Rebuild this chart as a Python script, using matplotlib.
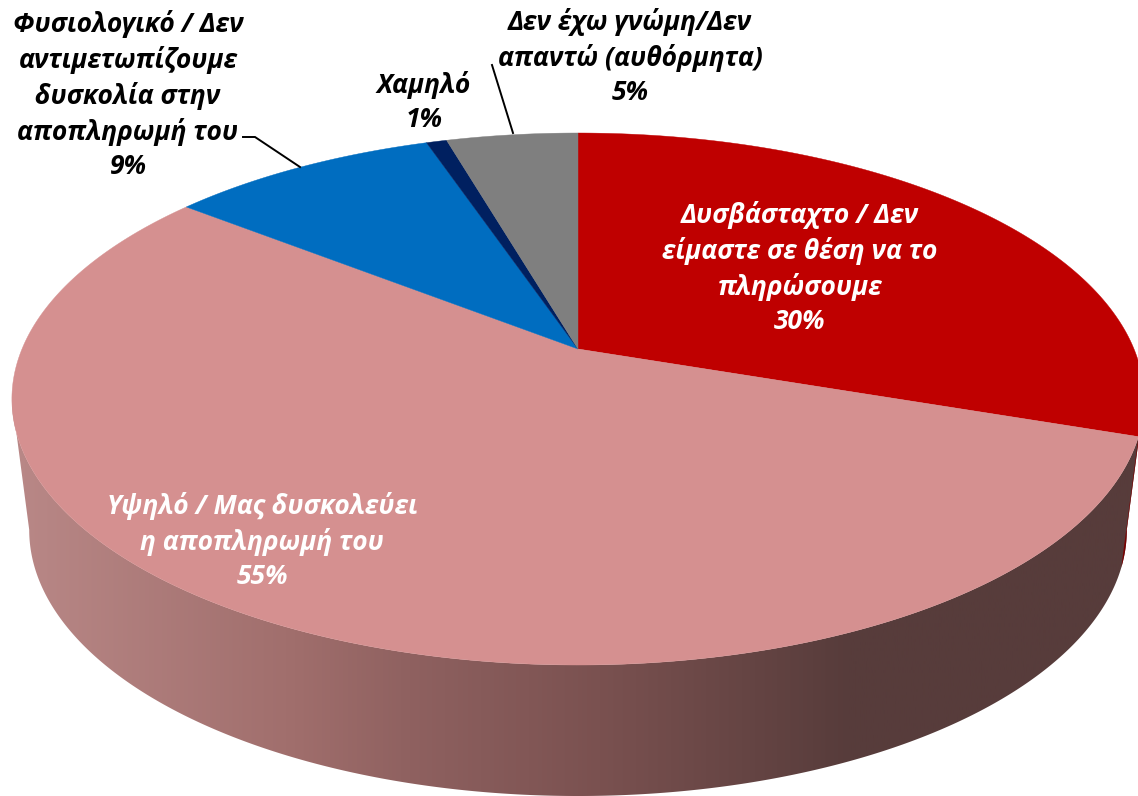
#!/usr/bin/env python3
"""3D pie (perspective disc + extruded side), axes in image pixels."""
import numpy as np
import matplotlib
matplotlib.use("Agg")
import matplotlib.pyplot as plt
from matplotlib.colors import LinearSegmentedColormap
from matplotlib.patches import Polygon

# clockwise from 12 o'clock; printed labels are rounded
values = [30.2, 55.4, 9.2, 0.7, 4.5]
colors = ["#BF0000", "#D59090", "#006DC0", "#002060", "#7F7F7F"]
side_red = "#7A0000"
labels = [
    "Δυσβάσταχτο / Δεν\nείμαστε σε θέση να το\nπληρώσουμε\n30%",
    "Υψηλό / Μας δυσκολεύει\nη αποπληρωμή του\n55%",
    "Φυσιολογικό / Δεν\nαντιμετωπίζουμε\nδυσκολία στην\nαποπληρωμή του\n9%",
    "Χαμηλό\n1%",
    "Δεν έχω γνώμη/Δεν\nαπαντώ (αυθόρμητα)\n5%",
]
label_xy = [(800, 268), (262, 541), (128, 95), (424, 102), (630, 57)]
label_col = ["white", "white", "black", "black", "black"]

W, H = 1138, 796
CX = 578
K = 0.188                     # perspective
TOP = (349, 556, 256.6)       # apex y, a, b
BOT = (480, 539, 256.6)
WIDE = np.radians(100.8)      # angle where the rim is widest on screen
FONT = "Open Sans"
FS = 19


def proj(theta, plane=TOP):
    cy, a, b = plane
    x, y = np.sin(theta), np.cos(theta)
    d = 1 + K * y
    return CX + a * x / d, cy - b * y / d


fig = plt.figure(figsize=(W / 100, H / 100), dpi=100)
ax = fig.add_axes([0, 0, 1, 1])
ax.set_xlim(0, W); ax.set_ylim(H, 0); ax.axis("off")

edges = np.radians(np.cumsum([0] + values) * 3.6)

# ── side ──
t = np.linspace(WIDE, 2 * np.pi - WIDE, 500)
tx, ty = proj(t, TOP)
bx, by = proj(t, BOT)
side = Polygon(np.r_[np.c_[tx, ty], np.c_[bx, by][::-1]], closed=True, fc="none", ec="none")
ax.add_patch(side)
cmap = LinearSegmentedColormap.from_list("side", [
    (0.0, "#B98887"), (0.25, "#A06E6C"), (0.35, "#8F6160"), (0.52, "#7A5150"),
    (0.74, "#573C3B"), (1.0, "#573C3B")])
img = ax.imshow(np.linspace(0, 1, 512)[None, :], cmap=cmap, vmin=0, vmax=1,
                extent=[12, 1144, H, 0], aspect="auto", zorder=1)
img.set_clip_path(side)
# thin sliver of the red slice's side
t = np.linspace(WIDE, edges[1], 40)
tx, ty = proj(t, TOP); bx, by = proj(t, BOT)
ax.add_patch(Polygon(np.r_[np.c_[tx, ty], np.c_[bx, by][::-1]], closed=True, fc=side_red, ec="none", zorder=2))

# ── top face ──
for v0, v1, c in zip(edges[:-1], edges[1:], colors):
    t = np.linspace(v0, v1, 300)
    x, y = proj(t, TOP)
    pts = np.r_[[[CX, TOP[0]]], np.c_[x, y]]
    ax.add_patch(Polygon(pts, closed=True, fc=c, ec=c, lw=0.3, zorder=3))

# ── leaders ──
ax.plot([243, 255, 300], [137, 137, 167], color="black", lw=1.4, zorder=4, solid_joinstyle="miter")
ax.plot([492, 513], [65, 133], color="black", lw=1.4, zorder=4)

# ── labels ──
for s, (x, y), c in zip(labels, label_xy, label_col):
    ax.text(x, y, s, color=c, ha="center", va="center", family=FONT, weight="bold",
            style="italic", fontsize=FS, linespacing=1.36, zorder=5)

fig.savefig("out.png", dpi=100)
